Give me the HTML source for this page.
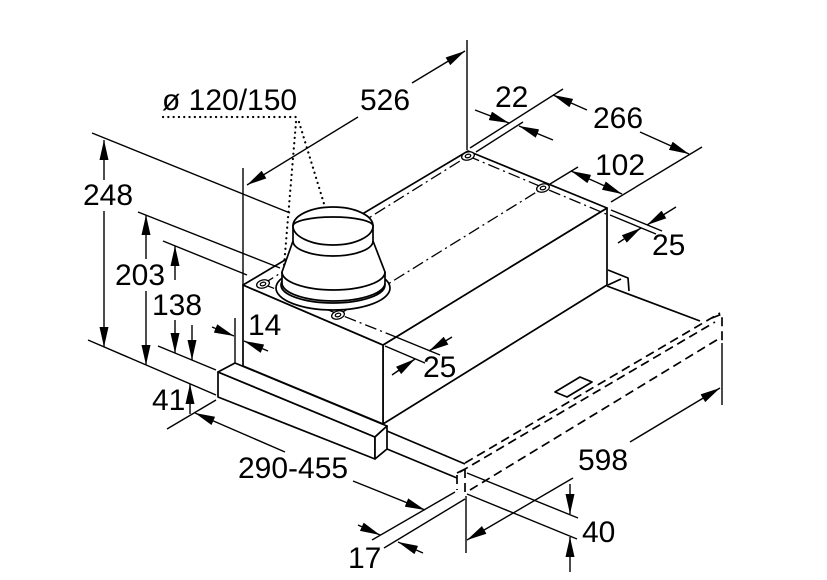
<!DOCTYPE html>
<html><head><meta charset="utf-8">
<style>
html,body{margin:0;padding:0;background:#fff;}
svg{display:block;}
text{font-family:"Liberation Sans",Arial,sans-serif;font-size:30px;fill:#000;}
</style></head><body>
<svg width="827" height="580" viewBox="0 0 827 580" xmlns="http://www.w3.org/2000/svg">
<defs>
<marker id="ar" viewBox="0 0 20 9" refX="20" refY="4.5" markerWidth="20" markerHeight="9" markerUnits="userSpaceOnUse" orient="auto"><path d="M0,0 L20,4.5 L0,9 z" fill="#000" stroke="none"/></marker>
</defs>
<rect width="827" height="580" fill="#fff"/>

<g stroke="#000" stroke-width="1.7" fill="none" stroke-linejoin="round">
<!-- lower body -->
<path d="M607,286 L700,321"/>
<path d="M608,270 L628,278 L629,291 M608,285 L621,279"/>
<path d="M387,431 L465,464 M387,449 L457,478"/>
<path stroke-dasharray="9 5" d="M465,463 L720,313 M460,472 L715,322 M470,490 L720,338 M457,473 L465,469 M457,475 L457,490 M465,469 L465,495 M712,318 L722,314 L722,342"/>
<path d="M555,392 L580,377 L592,382 L567,397 Z"/>

<!-- main box -->
<path fill="#fff" d="M383,345 L607,208 L607,285 L383,424 Z"/>
<path fill="#fff" d="M243,285 L383,345 L383,424 L243,366 Z"/>
<path fill="#fff" d="M243,285 L468,151 L607,208 L383,345 Z"/>

<!-- visor strip -->
<path fill="#fff" d="M218,372 L375,437 L375,459 L218,397 Z"/>
<path fill="#fff" d="M218,372 L235,363 L387,426 L375,437 Z"/>
<path fill="#fff" d="M375,437 L387,426 L387,449 L375,459 Z"/>

<!-- dash-dot centre lines -->
<g stroke-dasharray="12 4 2 4" stroke-width="1.3">
<path d="M338,315 L543,188"/>
<path d="M263,284 L468,156"/>
<path d="M468,156 L606,214"/>
<path d="M263,284 L396,337"/>
</g>

<!-- holes -->
<g fill="#fff" stroke-width="1.3">
<ellipse cx="263" cy="284" rx="6.5" ry="4" transform="rotate(-15 263 284)"/>
<ellipse cx="263" cy="284" rx="2.8" ry="1.7" transform="rotate(-15 263 284)"/>
<ellipse cx="338" cy="315" rx="6.5" ry="4" transform="rotate(-15 338 315)"/>
<ellipse cx="338" cy="315" rx="2.8" ry="1.7" transform="rotate(-15 338 315)"/>
<ellipse cx="468" cy="156" rx="6.5" ry="4" transform="rotate(-15 468 156)"/>
<ellipse cx="468" cy="156" rx="2.8" ry="1.7" transform="rotate(-15 468 156)"/>
<ellipse cx="543" cy="188" rx="6.5" ry="4" transform="rotate(-15 543 188)"/>
<ellipse cx="543" cy="188" rx="2.8" ry="1.7" transform="rotate(-15 543 188)"/>
</g>

<!-- duct -->
<ellipse cx="333" cy="288" rx="57" ry="22" fill="#fff"/>
<ellipse cx="333" cy="285" rx="52" ry="18" fill="#fff"/>
<path fill="#fff" d="M282,283 L282,272 L293,241 L293,226 L373,226 L373,241 L385,272 L385,283 A51.5,18 0 0 1 282,283 Z"/>
<path d="M282,272 A51.5,18 0 0 0 385,272"/>
<path d="M293,241 A40,15 0 0 0 373,241"/>
<ellipse cx="333" cy="226" rx="40" ry="19" fill="#fff"/>
<path d="M293,226 A40,9 0 0 1 373,226"/>
</g>

<!-- dotted leader -->
<g stroke="#000" stroke-width="2.2" fill="none" stroke-linecap="round" stroke-dasharray="0.1 5.2">
<path d="M163,117 L298,117"/>
<path d="M296,122 L284,266"/>
<path d="M299,122 L325,207"/>
</g>

<!-- extension lines -->
<g stroke="#000" stroke-width="1.4" fill="none">
<path d="M467,40 L467,150"/>
<path d="M243,168 L243,285"/>
<path d="M92,133 L290,213"/>
<path d="M138,212 L280,268"/>
<path d="M163,241 L247,275"/>
<path d="M158,346 L216,370"/>
<path d="M88,340 L216,395"/>
<path d="M235,318 L235,363"/>
<path d="M396,337 L440,355"/>
<path d="M385,346 L425,363"/>
<path d="M167,429 L216,400"/>
<path d="M372,540 L455,492"/>
<path d="M384,548 L465,499"/>
<path d="M466,496 L466,553"/>
<path d="M722,343 L722,405"/>
<path d="M467,473 L578,518"/>
<path d="M467,494 L577,539"/>
<path d="M470,148 L563,89"/>
<path d="M476,152 L523,122"/>
<path d="M611,202 L702,147"/>
<path d="M550,184 L578,167"/>
<path d="M611,210 L662,231"/>
<path d="M610,215 L656,234"/>
</g>

<!-- dimension arrows -->
<g stroke="#000" stroke-width="1.4" fill="none" marker-end="url(#ar)">
<!-- 526 -->
<path d="M358,117 L247,185"/>
<path d="M412,83 L465,51"/>
<!-- 248 -->
<path d="M104,180 L104,140"/>
<path d="M104,211 L104,347"/>
<!-- 203 -->
<path d="M146,259 L146,215"/>
<path d="M146,291 L146,365"/>
<!-- 138 -->
<path d="M175,280 L175,246"/>
<path d="M175,320 L175,353"/>
<!-- 41 -->
<path d="M192,325 L192,360"/>
<path d="M190,414 L190,384"/>
<!-- 14 -->
<path d="M212,327 L234,336"/>
<path d="M268,351 L244,341"/>
<!-- 25 middle -->
<path d="M452,337 L429,351"/>
<path d="M392,375 L415,359"/>
<!-- 290-455 -->
<path d="M285,452 L195,413"/>
<path d="M353,481 L425,510"/>
<!-- 17 -->
<path d="M358,525 L380,535"/>
<path d="M423,553 L398,542"/>
<!-- 598 -->
<path d="M573,478 L467,540"/>
<path d="M630,442 L720,388"/>
<!-- 40 -->
<path d="M570,484 L570,514"/>
<path d="M570,572 L570,537"/>
<!-- 22 -->
<path d="M475,110 L509,123"/>
<path d="M553,140 L519,126"/>
<!-- 266 -->
<path d="M587,110 L553,95"/>
<path d="M640,132 L689,154"/>
<!-- 102 -->
<path d="M596,182 L571,171"/>
<path d="M596,182 L622,194"/>
<!-- 25 right -->
<path d="M676,207 L647,225"/>
<path d="M618,243 L641,228"/>
</g>

<!-- labels -->
<text x="162" y="110">ø 120/150</text>
<text x="360" y="110">526</text>
<text x="495" y="107">22</text>
<text x="593" y="128">266</text>
<text x="595" y="175">102</text>
<text x="652" y="255">25</text>
<text x="83" y="205">248</text>
<text x="115" y="285">203</text>
<text x="152" y="315">138</text>
<text x="248" y="335">14</text>
<text x="423" y="377">25</text>
<text x="152" y="410">41</text>
<text x="238" y="478">290-455</text>
<text x="578" y="470">598</text>
<text x="582" y="542">40</text>
<text x="348" y="568">17</text>
</svg>
</body></html>
